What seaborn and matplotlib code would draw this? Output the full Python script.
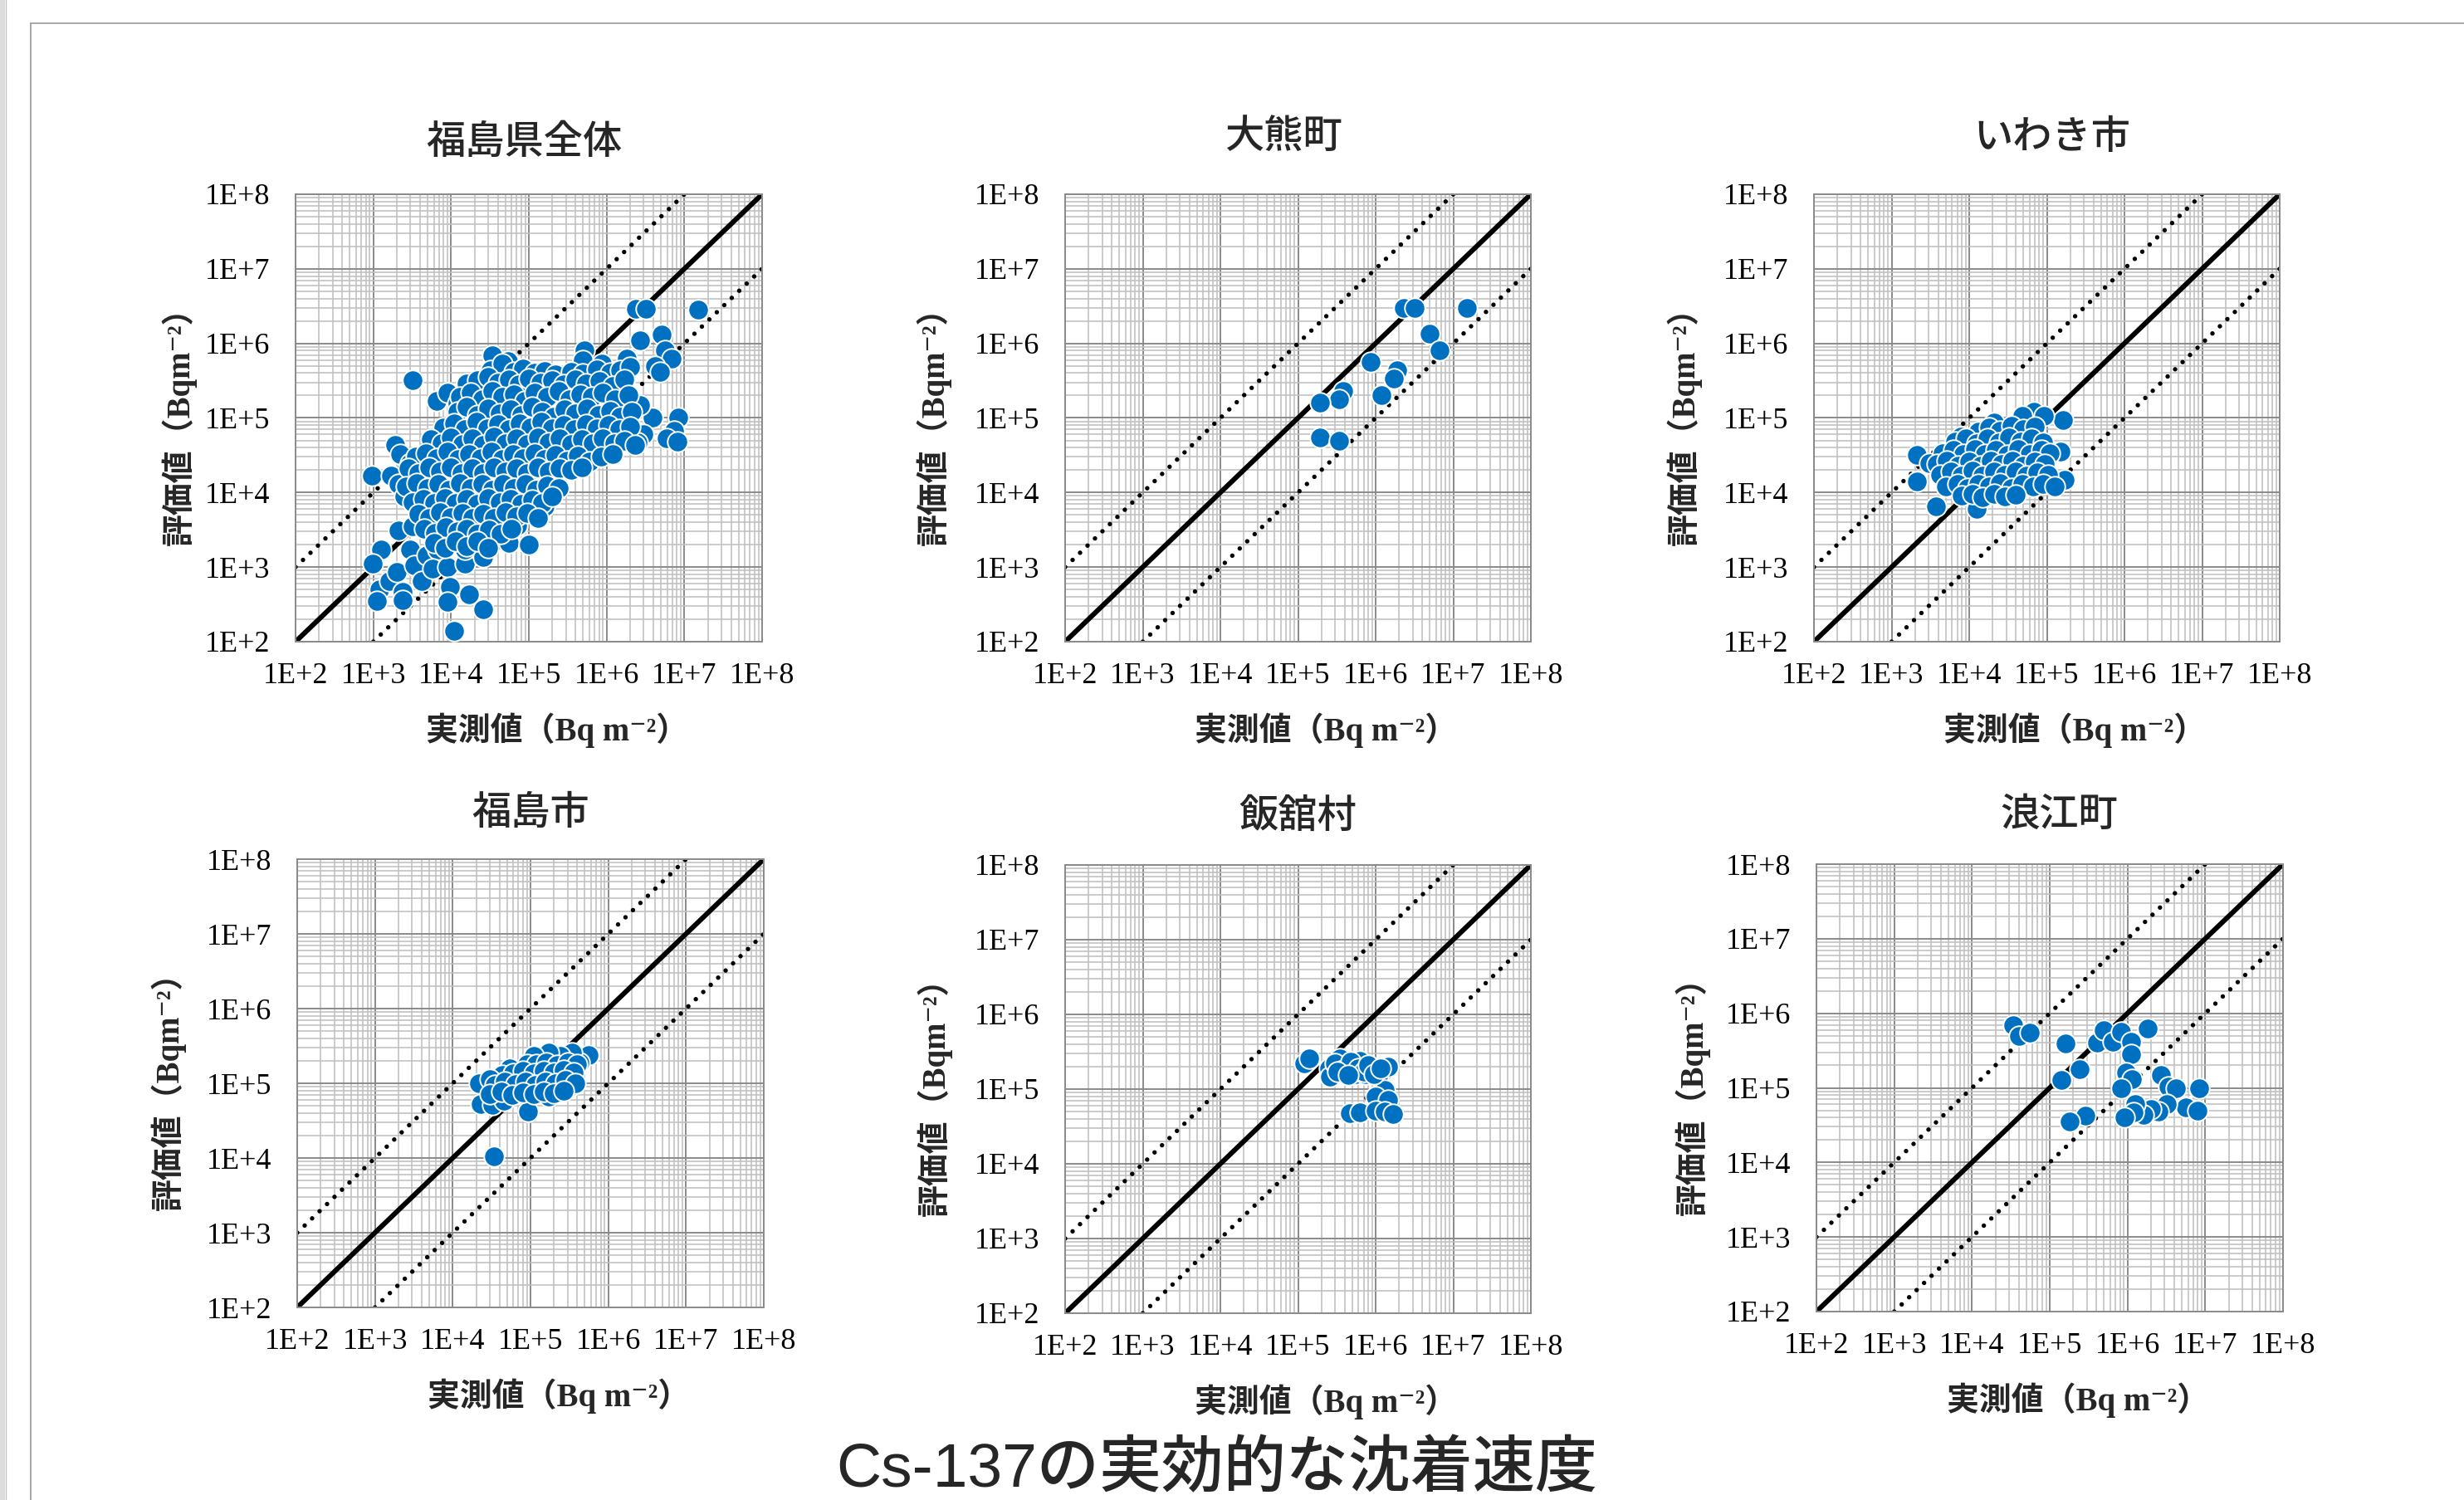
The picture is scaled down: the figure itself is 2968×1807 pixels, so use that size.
import numpy as np
import pandas as pd
import matplotlib
matplotlib.use("Agg")
import matplotlib.pyplot as plt
from matplotlib.ticker import LogLocator, NullFormatter
from matplotlib.lines import Line2D
from matplotlib.patches import Rectangle
import seaborn as sns

# ---------------------------------------------------------------- data
panel_titles = ["福島県全体", "大熊町", "いわき市", "福島市", "飯舘村", "浪江町"]
tick_values = [1e2, 1e3, 1e4, 1e5, 1e6, 1e7, 1e8]
tick_labels = ["1E+2", "1E+3", "1E+4", "1E+5", "1E+6", "1E+7", "1E+8"]
x_label = "実測値（Bq m⁻²）"
y_label = "評価値（Bqm⁻²）"
figure_title = "Cs-137の実効的な沈着速度"

# reference lines: 1:1, x10 and x1/10
one_to_one_x = [1e2, 1e8]
upper_x = [1e2, 1e7]
upper_factor = 10.0
lower_x = [1e3, 1e8]
lower_factor = 0.1

# (measured, estimated) pairs
fukushima_all_points = [
    # outliers / sparse points
    (1.5e7, 2.8e6), (2.4e6, 2.9e6), (3.2e6, 2.9e6), (2.7e6, 1.1e6), (5.1e6, 1.3e6),
    (5.7e6, 8.0e5), (6.9e6, 6.2e5), (4.2e6, 4.9e5), (4.9e6, 4.1e5), (8.3e6, 1.0e5),
    (7.3e6, 6.8e4), (5.9e6, 5.3e4), (8.1e6, 4.8e4), (3.9e6, 1.0e5), (3.0e6, 6.0e4),
    (2.5e6, 4.7e4), (2.7e6, 1.5e5), (1.8e6, 6.2e5), (1.7e6, 3.2e5), (5.2e5, 8.1e5),
    (4.9e5, 5.9e5), (8.7e5, 5.4e5), (3.2e3, 3.2e5), (3.4e4, 6.9e5), (5.4e4, 5.8e5),
    (6.5e3, 1.7e5), (9.1e3, 2.2e5), (1.2e4, 1.55e5), (2.0e4, 2.9e5), (1.9e3, 4.4e4),
    (2.2e3, 3.3e4), (9.5e2, 1.7e4), (1.7e3, 1.7e4), (2.1e3, 1.3e4), (2.5e3, 8.9e3),
    (3.0e3, 2.5e4), (3.9e3, 1.7e4), (4.5e3, 2.2e4), (2.1e3, 3.1e3), (3.2e3, 3.5e3),
    (1.26e3, 1.7e3), (9.8e2, 1.1e3), (1.2e3, 5.0e2), (1.1e3, 3.5e2), (1.6e3, 6.5e2),
    (2.0e3, 8.7e2), (2.4e3, 4.7e2), (2.4e3, 3.6e2), (3.0e3, 1.7e3), (3.4e3, 1.07e3),
    (4.2e3, 6.5e2), (4.9e3, 1.45e3), (6.7e3, 1.7e3), (5.8e3, 9.6e2), (8.9e3, 1.0e3),
    (9.7e3, 5.4e2), (8.9e3, 3.4e2), (1.5e4, 1.1e3), (1.5e4, 1.7e3), (1.7e4, 4.3e2),
    (1.1e4, 1.4e2), (2.6e4, 2.7e2), (2.6e4, 1.35e3), (2.0e4, 2.6e3), (3.7e4, 2.3e3),
    (5.5e4, 2.1e3), (1.0e5, 2.0e3), (7.1e4, 3.6e3), (1.2e5, 5.4e3), (1.6e5, 6.5e3),
    (2.0e5, 9.5e3), (9.3e3, 3.4e3), (2.0e4, 5.4e3),
    # dense cloud
    (3.2e4, 4.4e5), (4.6e4, 5.3e5), (6.5e4, 4.1e5), (8.5e4, 4.6e5), (1.2e5, 4.0e5),
    (1.6e5, 4.3e5), (2.2e5, 3.8e5), (3.5e5, 4.2e5), (5.0e5, 3.9e5), (7.5e5, 4.5e5),
    (1.1e6, 4.0e5), (1.5e6, 4.4e5), (2.0e6, 4.8e5),
    (1.6e4, 2.9e5), (2.2e4, 3.2e5), (3.0e4, 3.6e5), (4.0e4, 3.0e5), (5.5e4, 3.3e5),
    (7.5e4, 2.8e5), (1.0e5, 3.4e5), (1.4e5, 3.0e5), (2.0e5, 3.2e5), (2.8e5, 2.8e5),
    (4.0e5, 3.3e5), (5.5e5, 2.9e5), (8.0e5, 3.1e5), (1.2e6, 2.7e5), (1.7e6, 3.3e5),
    (1.3e4, 1.9e5), (1.8e4, 2.2e5), (2.5e4, 1.8e5), (3.4e4, 2.3e5), (4.6e4, 1.9e5),
    (6.4e4, 2.1e5), (8.8e4, 1.7e5), (1.2e5, 2.2e5), (1.7e5, 1.9e5), (2.4e5, 2.3e5),
    (3.3e5, 1.8e5), (4.6e5, 2.1e5), (6.5e5, 1.9e5), (9.0e5, 2.2e5), (1.3e6, 1.8e5),
    (1.9e6, 2.0e5),
    (1.2e4, 1.2e5), (1.6e4, 1.4e5), (2.2e4, 1.1e5), (3.0e4, 1.35e5), (4.2e4, 1.15e5),
    (5.8e4, 1.3e5), (8.0e4, 1.1e5), (1.1e5, 1.4e5), (1.5e5, 1.2e5), (2.1e5, 1.05e5),
    (2.9e5, 1.3e5), (4.0e5, 1.15e5), (5.6e5, 1.35e5), (7.8e5, 1.1e5), (1.1e6, 1.25e5),
    (1.5e6, 1.05e5), (2.1e6, 1.2e5),
    (8.0e3, 7.5e4), (1.1e4, 8.5e4), (1.5e4, 7.0e4), (2.1e4, 8.8e4), (2.9e4, 7.3e4),
    (4.0e4, 8.2e4), (5.5e4, 7.0e4), (7.6e4, 8.5e4), (1.05e5, 7.5e4), (1.45e5, 8.8e4),
    (2.0e5, 7.2e4), (2.8e5, 8.0e4), (3.9e5, 7.0e4), (5.4e5, 8.3e4), (7.5e5, 7.2e4),
    (1.05e6, 8.0e4), (1.45e6, 7.0e4), (2.0e6, 7.6e4),
    (5.5e3, 5.2e4), (7.5e3, 4.6e4), (1.0e4, 5.5e4), (1.4e4, 4.5e4), (1.9e4, 5.3e4),
    (2.6e4, 4.4e4), (3.6e4, 5.6e4), (5.0e4, 4.6e4), (6.9e4, 5.3e4), (9.5e4, 4.5e4),
    (1.3e5, 5.5e4), (1.8e5, 4.7e4), (2.5e5, 5.4e4), (3.5e5, 4.5e4), (4.8e5, 5.2e4),
    (6.6e5, 4.6e4), (9.0e5, 5.4e4), (1.25e6, 4.6e4), (1.7e6, 5.0e4), (2.3e6, 4.4e4),
    (3.5e3, 3.0e4), (4.8e3, 3.4e4), (6.6e3, 2.9e4), (9.0e3, 3.5e4), (1.25e4, 2.8e4),
    (1.7e4, 3.3e4), (2.4e4, 2.9e4), (3.3e4, 3.5e4), (4.5e4, 2.8e4), (6.2e4, 3.3e4),
    (8.5e4, 2.9e4), (1.2e5, 3.4e4), (1.6e5, 2.8e4), (2.2e5, 3.2e4), (3.1e5, 2.7e4),
    (4.3e5, 3.1e4), (6.0e5, 2.6e4), (8.5e5, 3.0e4), (1.2e6, 3.3e4),
    (2.8e3, 2.1e4), (3.8e3, 1.8e4), (5.2e3, 2.2e4), (7.2e3, 1.9e4), (9.9e3, 2.2e4),
    (1.35e4, 1.8e4), (1.9e4, 2.1e4), (2.6e4, 1.8e4), (3.6e4, 2.2e4), (5.0e4, 1.9e4),
    (6.9e4, 2.1e4), (9.5e4, 1.8e4), (1.3e5, 2.2e4), (1.8e5, 1.9e4), (2.5e5, 2.1e4),
    (3.5e5, 2.0e4), (4.8e5, 2.2e4),
    (2.6e3, 1.2e4), (3.6e3, 1.35e4), (5.0e3, 1.15e4), (6.8e3, 1.3e4), (9.4e3, 1.1e4),
    (1.3e4, 1.35e4), (1.8e4, 1.15e4), (2.5e4, 1.3e4), (3.4e4, 1.1e4), (4.7e4, 1.3e4),
    (6.5e4, 1.15e4), (9.0e4, 1.3e4), (1.25e5, 1.1e4), (1.7e5, 1.25e4), (2.4e5, 1.15e4),
    (3.2e3, 7.5e3), (4.4e3, 8.3e3), (6.1e3, 7.2e3), (8.4e3, 8.5e3), (1.15e4, 7.3e3),
    (1.6e4, 8.2e3), (2.2e4, 7.1e3), (3.0e4, 8.4e3), (4.2e4, 7.4e3), (5.8e4, 8.2e3),
    (8.0e4, 7.0e3), (1.1e5, 8.0e3), (1.5e5, 7.2e3), (2.0e5, 8.8e3),
    (3.8e3, 5.2e3), (5.2e3, 4.6e3), (7.2e3, 5.4e3), (1.0e4, 4.7e3), (1.4e4, 5.3e3),
    (1.9e4, 4.5e3), (2.6e4, 5.2e3), (3.6e4, 4.6e3), (5.0e4, 5.4e3), (7.0e4, 4.8e3),
    (9.5e4, 5.3e3), (1.3e5, 4.6e3),
    (4.5e3, 3.3e3), (6.2e3, 2.9e3), (8.5e3, 3.4e3), (1.2e4, 3.0e3), (1.6e4, 3.3e3),
    (2.2e4, 2.8e3), (3.1e4, 3.2e3), (4.3e4, 2.8e3), (6.0e4, 3.3e3),
    (6.0e3, 2.1e3), (8.3e3, 1.8e3), (1.15e4, 2.2e3), (1.6e4, 1.9e3), (2.2e4, 2.2e3),
    (3.0e4, 1.8e3),
]

okuma_points = [
    (2.3e6, 3.0e6), (3.2e6, 2.95e6), (1.5e7, 2.95e6), (5.0e6, 1.35e6), (6.6e6, 8.0e5),
    (8.7e5, 5.6e5), (1.9e6, 4.4e5), (1.7e6, 3.4e5), (1.2e6, 2.0e5), (3.8e5, 2.3e5),
    (3.4e5, 1.8e5), (1.9e5, 1.6e5), (1.9e5, 5.5e4), (3.4e5, 4.9e4),
]

iwaki_points = [
    (2.1e3, 3.2e4), (2.1e3, 1.4e4), (3.7e3, 6.6e3), (3.1e3, 2.5e4), (7.9e3, 5.6e4),
    (1.26e4, 6.0e3), (1.6e5, 9.3e4), (1.5e5, 3.5e4), (1.7e5, 1.5e4), (6.9e4, 1.2e5),
    (4.8e4, 1.07e5), (2.1e4, 8.7e4), (9.1e4, 1.07e5),
    (1.3e4, 6.5e4), (1.8e4, 7.5e4), (2.5e4, 6.8e4), (3.5e4, 7.8e4), (5.0e4, 7.0e4),
    (7.0e4, 7.6e4),
    (6.5e3, 4.8e4), (9.0e3, 5.3e4), (1.25e4, 4.6e4), (1.7e4, 5.4e4), (2.4e4, 4.7e4),
    (3.3e4, 5.5e4), (4.6e4, 4.8e4), (6.4e4, 5.3e4), (9.0e4, 4.7e4),
    (4.5e3, 3.4e4), (6.2e3, 3.7e4), (8.5e3, 3.3e4), (1.2e4, 3.8e4), (1.6e4, 3.3e4),
    (2.2e4, 3.7e4), (3.1e4, 3.2e4), (4.3e4, 3.8e4), (6.0e4, 3.3e4), (8.5e4, 3.7e4),
    (1.1e5, 3.4e4),
    (3.8e3, 2.4e4), (5.2e3, 2.7e4), (7.2e3, 2.3e4), (1.0e4, 2.6e4), (1.4e4, 2.3e4),
    (1.9e4, 2.7e4), (2.6e4, 2.4e4), (3.6e4, 2.7e4), (5.0e4, 2.3e4), (7.0e4, 2.6e4),
    (9.5e4, 2.4e4),
    (4.2e3, 1.75e4), (5.8e3, 1.9e4), (8.0e3, 1.7e4), (1.1e4, 1.95e4), (1.5e4, 1.7e4),
    (2.1e4, 1.9e4), (2.9e4, 1.75e4), (4.0e4, 1.9e4), (5.5e4, 1.7e4), (7.6e4, 1.85e4),
    (1.05e5, 1.75e4),
    (5.0e3, 1.2e4), (7.0e3, 1.3e4), (9.6e3, 1.15e4), (1.3e4, 1.3e4), (1.8e4, 1.2e4),
    (2.5e4, 1.35e4), (3.5e4, 1.15e4), (4.8e4, 1.3e4), (6.6e4, 1.2e4), (9.0e4, 1.3e4),
    (1.25e5, 1.2e4),
    (8.0e3, 9.0e3), (1.1e4, 9.6e3), (1.5e4, 8.6e3), (2.1e4, 9.5e3), (2.9e4, 8.8e3),
    (4.0e4, 9.4e3),
]

fukushima_city_points = [
    (3.4e4, 1.05e4), (9.4e4, 4.2e4), (2.2e4, 1.0e5), (2.3e4, 5.3e4), (3.2e4, 5.2e4),
    (4.6e4, 5.8e4), (5.6e5, 2.4e5), (4.3e5, 1.9e5), (3.4e5, 2.6e5), (2.4e5, 2.3e5),
    (1.7e5, 2.6e5), (1.1e5, 2.3e5), (9.0e4, 1.8e5), (5.4e4, 1.6e5), (4.3e4, 1.3e5),
    (3.0e4, 1.15e5), (3.2e5, 9.1e4), (1.7e5, 6.6e4), (7.1e4, 7.4e4),
    (1.2e5, 1.8e5), (1.6e5, 1.9e5), (2.2e5, 1.75e5), (3.0e5, 1.9e5), (4.0e5, 1.8e5),
    (6.0e4, 1.35e5), (8.0e4, 1.45e5), (1.1e5, 1.35e5), (1.5e5, 1.45e5), (2.0e5, 1.4e5),
    (2.7e5, 1.5e5), (3.6e5, 1.4e5),
    (3.5e4, 9.5e4), (4.7e4, 1.05e5), (6.4e4, 9.8e4), (8.6e4, 1.05e5), (1.15e5, 9.5e4),
    (1.55e5, 1.05e5), (2.1e5, 1.0e5), (2.8e5, 1.1e5), (3.8e5, 1.0e5),
    (3.0e4, 7.2e4), (4.2e4, 7.8e4), (5.8e4, 7.0e4), (8.0e4, 7.6e4), (1.1e5, 7.2e4),
    (1.5e5, 7.8e4), (2.0e5, 7.4e4), (2.7e5, 8.0e4),
]

iitate_points = [
    (1.2e5, 2.2e5), (1.4e5, 2.6e5), (2.5e5, 1.9e5), (2.6e5, 1.45e5), (3.5e5, 2.6e5),
    (4.2e5, 2.1e5), (6.2e5, 2.4e5), (5.6e5, 1.6e5), (8.9e5, 1.9e5), (1.1e6, 1.6e5),
    (1.45e6, 2.0e5), (1.3e6, 9.8e4), (1.0e6, 8.0e4), (1.45e6, 7.2e4), (4.7e5, 4.8e4),
    (6.2e5, 4.9e4), (1.0e6, 5.2e4), (1.3e6, 5.0e4), (1.66e6, 4.7e4), (5.1e5, 1.7e5),
    (7.4e5, 1.6e5),
    (3.0e5, 2.2e5), (3.8e5, 1.8e5), (4.8e5, 2.3e5), (6.0e5, 1.9e5), (7.0e5, 1.7e5),
    (8.0e5, 2.1e5), (9.5e5, 1.6e5), (1.15e6, 1.9e5), (3.2e5, 1.7e5), (4.4e5, 1.55e5),
]

namie_points = [
    (3.4e4, 6.9e5), (4.0e4, 4.9e5), (5.5e4, 5.5e5), (1.6e5, 3.9e5), (2.4e5, 1.8e5),
    (1.4e5, 1.26e5), (4.1e5, 4.0e5), (5.0e5, 6.0e5), (6.5e5, 4.1e5), (8.2e5, 5.7e5),
    (1.1e6, 4.1e5), (1.1e6, 2.8e5), (1.8e6, 6.2e5), (9.6e5, 1.6e5), (1.15e6, 1.3e5),
    (8.3e5, 1.0e5), (2.7e6, 1.5e5), (3.4e6, 1.05e5), (4.2e6, 9.8e4), (8.3e6, 1.0e5),
    (5.6e6, 5.5e4), (7.9e6, 4.9e4), (3.2e6, 6.0e4), (2.5e6, 4.8e4), (2.0e6, 5.2e4),
    (1.6e6, 4.4e4), (1.26e6, 6.0e4), (1.2e6, 4.7e4), (9.1e5, 4.0e4), (2.9e5, 4.2e4),
    (1.8e5, 3.5e4),
]

all_points = [fukushima_all_points, okuma_points, iwaki_points,
              fukushima_city_points, iitate_points, namie_points]

# ---------------------------------------------------------------- style
sns.set_style("white")
plt.rcParams["font.family"] = ["Liberation Serif", "Noto Sans CJK JP", "DejaVu Serif"]

W, H = 2968, 1807
DPI = 100
fig = plt.figure(figsize=(W / DPI, H / DPI), dpi=DPI)
fig.patch.set_facecolor("white")

# axes boxes in pixels: left, top, right, bottom
boxes = [
    (356, 234, 918, 773),
    (1283, 234, 1844, 773),
    (2185, 234, 2746, 773),
    (358, 1035, 920, 1575),
    (1283, 1042, 1844, 1582),
    (2188, 1041, 2750, 1580),
]
title_y = [171, 164, 166, 979, 983, 981]
title_dx = [-6, -18, 6, 0, 0, 11]
ylabel_off = [140, 158, 156, 155, 157, 149]

MAJOR = "#8a8a8a"
MINOR = "#c0c0c0"
BLUE = "#0070C0"

for i, (l, t, r, b) in enumerate(boxes):
    ax = fig.add_axes([l / W, 1 - b / H, (r - l) / W, (b - t) / H])
    ax.set_xscale("log")
    ax.set_yscale("log")
    ax.set_axisbelow(True)

    # reference lines
    ax.plot(one_to_one_x, one_to_one_x, color="black", lw=4.3,
            solid_capstyle="butt", zorder=2)
    ax.plot(upper_x, [v * upper_factor for v in upper_x], color="black", lw=3.9,
            linestyle=(0, (0.001, 2.3)), dash_capstyle="round", zorder=2)
    ax.plot(lower_x, [v * lower_factor for v in lower_x], color="black", lw=3.9,
            linestyle=(0, (0.001, 2.3)), dash_capstyle="round", zorder=2)

    df = pd.DataFrame(all_points[i], columns=["measured", "estimated"])
    sns.scatterplot(data=df, x="measured", y="estimated", ax=ax, s=310,
                    color=BLUE, edgecolor="white", linewidth=1.4, zorder=3,
                    legend=False)

    ax.set_xlim(1e2, 1e8)
    ax.set_ylim(1e2, 1e8)
    ax.set_xticks(tick_values)
    ax.set_xticklabels(tick_labels)
    ax.set_yticks(tick_values)
    ax.set_yticklabels(tick_labels)
    for axis in (ax.xaxis, ax.yaxis):
        axis.set_minor_locator(LogLocator(base=10, subs=np.arange(2, 10), numticks=100))
        axis.set_minor_formatter(NullFormatter())
    ax.grid(which="major", color=MAJOR, lw=1.4)
    ax.grid(which="minor", color=MINOR, lw=1.15)
    ax.tick_params(which="major", direction="out", length=8, width=1.3,
                   color=MAJOR, labelsize=26, labelcolor="black")
    ax.tick_params(axis="x", which="major", pad=10)
    ax.tick_params(axis="y", which="major", pad=14)
    ax.tick_params(which="minor", length=0)
    for sp in ax.spines.values():
        sp.set_color(MAJOR)
        sp.set_linewidth(1.4)
    ax.set_xlabel("")
    ax.set_ylabel("")

    w = r - l
    h = b - t
    ax.text(0.5 + title_dx[i] / w, 1 + (t - title_y[i]) / h, panel_titles[i],
            transform=ax.transAxes, ha="center", va="center", fontsize=34,
            fontweight="medium", family=["Noto Sans CJK JP"])
    ax.text(0.5 + 34 / w, -107 / h, x_label, transform=ax.transAxes,
            ha="center", va="center", fontsize=28, fontweight="bold")
    ax.text(-ylabel_off[i] / w, 0.5, y_label, transform=ax.transAxes,
            ha="center", va="center", rotation=90, fontsize=28, fontweight="bold")

# page frame
fig.add_artist(Rectangle((0, 0), 6 / W, 1, transform=fig.transFigure,
                         facecolor="#dcdcdc", edgecolor="none"))
fig.add_artist(Line2D([6.5 / W, 6.5 / W], [0, 1], transform=fig.transFigure,
                      color="#c2c2c2", lw=1.0))
fig.add_artist(Line2D([37 / W, 37 / W], [0, 1 - 28 / H], transform=fig.transFigure,
                      color="#9a9a9a", lw=1.2))
fig.add_artist(Line2D([37 / W, 1], [1 - 28 / H, 1 - 28 / H], transform=fig.transFigure,
                      color="#9a9a9a", lw=1.2))

fig.text(1466 / W, 16 / H, figure_title, ha="center", va="baseline", fontsize=54,
         fontweight="medium", family=["Liberation Sans", "Noto Sans CJK JP"])

fig.savefig("out.png", dpi=DPI, facecolor="white")
